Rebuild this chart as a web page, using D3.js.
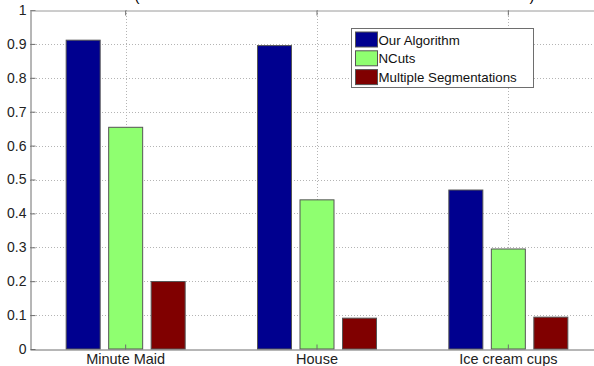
<!DOCTYPE html>
<html>
<head>
<meta charset="utf-8">
<script src="https://cdn.jsdelivr.net/npm/d3@7"></script>
<style>
  html, body { margin: 0; padding: 0; background: #fff; }
  svg { display: block; font-family: "Liberation Sans", Arial, sans-serif; }
</style>
</head>
<body>
<svg id="chart" width="594" height="366"></svg>
<script>
// Categories, series and values
const categories = ["Minute Maid", "House", "Ice cream cups"];
const seriesNames = ["Our Algorithm", "NCuts", "Multiple Segmentations"];
const ourAlgorithm = [0.911, 0.895, 0.469];
const nCuts = [0.654, 0.440, 0.295];
const multipleSegmentations = [0.199, 0.091, 0.094];
const seriesColors = ["#00008F", "#8FFF70", "#800000"];
const yTicks = [0, 0.1, 0.2, 0.3, 0.4, 0.5, 0.6, 0.7, 0.8, 0.9, 1];
const yTickLabels = ["0", "0.1", "0.2", "0.3", "0.4", "0.5", "0.6", "0.7", "0.8", "0.9", "1"];

const seriesValues = [ourAlgorithm, nCuts, multipleSegmentations];

const svg = d3.select("#chart");
const plotLeft = 30, plotRight = 604, plotTop = 10, plotBottom = 349;
const axisColor = "#6e6e6e";

const y = d3.scaleLinear().domain([0, 1]).range([plotBottom, plotTop]);
const x0 = d3.scaleBand().domain(categories).range([plotLeft, plotRight]).padding(0);
const groupWidth = 119;
const x1 = d3.scaleBand().domain(seriesNames)
  .range([0, groupWidth]).paddingInner(0.2).paddingOuter(0);

// dotted grid
const grid = svg.append("g").attr("stroke", "#b4b4b4").attr("stroke-dasharray", "1,2").attr("stroke-width", 1);
grid.selectAll("line.h").data(yTicks.slice(1, -1)).join("line").attr("class", "h")
  .attr("x1", plotLeft).attr("x2", 594)
  .attr("y1", d => Math.round(y(d)) + 0.5).attr("y2", d => Math.round(y(d)) + 0.5);
grid.selectAll("line.v").data(categories).join("line").attr("class", "v")
  .attr("x1", d => Math.round(x0(d) + x0.bandwidth() / 2) + 0.5)
  .attr("x2", d => Math.round(x0(d) + x0.bandwidth() / 2) + 0.5)
  .attr("y1", plotTop).attr("y2", plotBottom);

// bars
const groups = svg.append("g").selectAll("g").data(categories).join("g")
  .attr("transform", d => `translate(${x0(d) + (x0.bandwidth() - groupWidth) / 2},0)`);
groups.selectAll("rect").data((c, i) => seriesNames.map((s, k) => ({ s, k, v: seriesValues[k][i] })))
  .join("rect")
  .attr("x", d => x1(d.s))
  .attr("width", x1.bandwidth())
  .attr("y", d => y(d.v))
  .attr("height", d => y(0) - y(d.v))
  .attr("fill", d => seriesColors[d.k])
  .attr("stroke", "#555")
  .attr("stroke-width", 1);

// y axis (ticks inward)
const yAxis = d3.axisLeft(y).tickValues(yTicks).tickFormat((d, i) => yTickLabels[i])
  .tickSizeInner(-5).tickSizeOuter(0).tickPadding(4);
const gy = svg.append("g").attr("transform", `translate(${plotLeft + 0.5},0)`).call(yAxis);
gy.select(".domain").attr("stroke", axisColor);
gy.selectAll(".tick line").attr("stroke", axisColor);
gy.selectAll(".tick text").attr("font-size", 14).attr("fill", "#222");

// x axis at bottom (ticks inward)
const xAxis = d3.axisBottom(x0).tickSizeInner(-5).tickSizeOuter(0).tickPadding(4);
const gx = svg.append("g").attr("transform", `translate(0,${plotBottom + 0.5})`).call(xAxis);
gx.select(".domain").attr("stroke", axisColor);
gx.selectAll(".tick line").attr("stroke", axisColor);
gx.selectAll(".tick text").attr("font-size", 14.5).attr("fill", "#222");

// top box line with inward ticks
const xTop = d3.axisTop(x0).tickSizeInner(-5).tickSizeOuter(0).tickFormat("");
const gt = svg.append("g").attr("transform", `translate(0,${plotTop + 0.5})`).call(xTop);
gt.select(".domain").attr("stroke", "#9a9a9a");
gt.selectAll(".tick line").attr("stroke", axisColor);

// title, clipped by the top of the frame
svg.append("text").attr("x", 137).attr("y", 1).attr("font-size", 15).attr("text-anchor", "middle").text("(");
svg.append("text").attr("x", 532).attr("y", 1).attr("font-size", 15).attr("text-anchor", "middle").text(")");

// legend
const legend = svg.append("g").attr("transform", "translate(351.5,28.5)");
legend.append("rect").attr("width", 182).attr("height", 59)
  .attr("fill", "#fff").attr("stroke", axisColor);
const rows = legend.selectAll("g").data(seriesNames).join("g")
  .attr("transform", (d, i) => `translate(0,${3.5 + i * 18.8})`);
rows.append("rect").attr("x", 4).attr("width", 22).attr("height", 15)
  .attr("fill", (d, i) => seriesColors[i]).attr("stroke", "#555");
rows.append("text").attr("x", 27).attr("y", 12.5).attr("font-size", 13.3).attr("fill", "#111").text(d => d);
</script>
</body>
</html>
